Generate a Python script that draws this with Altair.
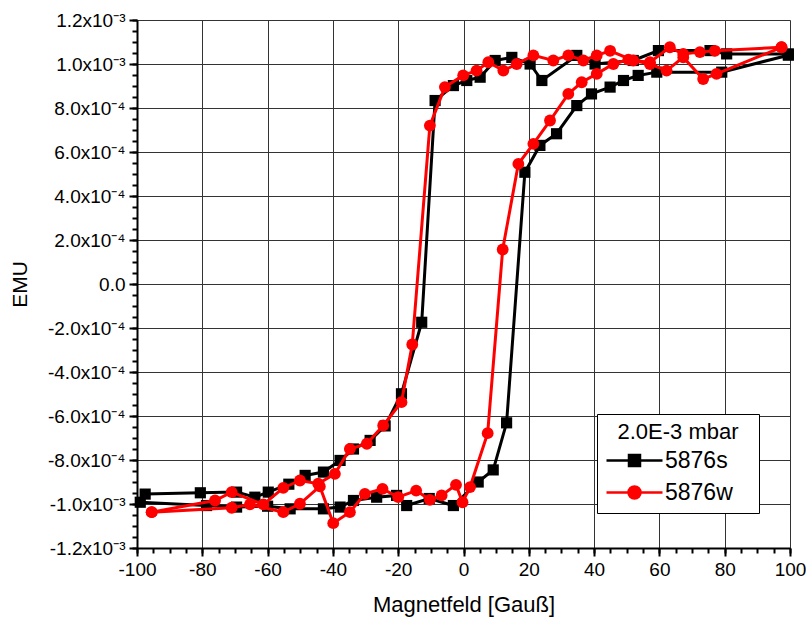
import altair as alt
import pandas as pd

FONT = "Liberation Sans"

# ---- data (x in Gauss, y in units of 1e-4 EMU) ----
# 5876s (black squares), descending branch (+100 -> -100)
s_down_x = [99.5, 80.6, 75.5, 59.7, 52.0, 40.3, 34.7, 24.0, 20.4, 14.8, 9.7, 5.1, 1.0, -3.1, -8.7,
            -12.8, -19.0, -24.0, -28.6, -33.7, -37.8, -42.9, -48.5, -53.5, -59.8, -63.9, -69.5, -80.6, -97.5]
s_down_y = [10.46, 10.46, 10.61, 10.61, 10.16, 10.0, 10.39, 9.25, 10.0, 10.3, 10.16, 9.4, 9.25, 9.02, 8.34,
            -1.74, -4.99, -6.45, -7.11, -7.5, -8.02, -8.55, -8.7, -9.1, -9.46, -9.69, -9.46, -9.49, -9.55]
# 5876s ascending branch (-100 -> +100)
s_up_x = [-99.0, -78.7, -69.5, -60.0, -53.1, -42.9, -37.8, -33.7, -26.6, -20.5, -17.4, -10.5, -3.1, 4.5,
          9.1, 13.2, 18.8, 23.4, 28.5, 34.7, 39.2, 44.9, 49.0, 53.5, 59.2, 79.1, 99.5]
s_up_y = [-9.92, -10.07, -10.14, -10.1, -10.22, -10.22, -10.14, -9.84, -9.69, -9.61, -10.07, -9.75, -10.07, -9.0,
          -8.45, -6.31, 5.08, 6.3, 6.83, 8.11, 8.64, 8.95, 9.25, 9.48, 9.63, 9.63, 10.4]
# 5876w (red circles), descending branch
w_down_x = [97.4, 77.0, 72.4, 67.3, 63.2, 57.1, 52.0, 44.9, 40.8, 36.7, 32.1, 27.5, 21.4, 16.3, 12.2, 7.6,
            4.0, -0.1, -5.7, -10.3, -15.7, -19.0, -24.6, -29.6, -34.8, -39.4, -44.5, -50.1, -55.2, -61.3,
            -71.0, -76.1, -95.5]
w_down_y = [10.76, 10.6, 10.54, 10.46, 10.76, 10.08, 10.16, 10.6, 10.39, 10.16, 10.39, 10.16, 10.39, 10.0, 9.7,
            10.08, 9.7, 9.48, 8.95, 7.2, -2.75, -5.37, -6.43, -7.26, -7.5, -8.63, -9.08, -8.93, -9.27, -10.02,
            -9.46, -9.84, -10.37]
# 5876w ascending branch
w_up_x = [-95.5, -71.0, -65.4, -55.2, -50.1, -44.0, -39.9, -34.8, -30.2, -24.8, -20.0, -14.5, -10.3, -6.7,
          -2.3, -0.3, 2.0, 7.4, 12.0, 16.8, 21.4, 26.5, 32.1, 36.2, 40.8, 45.9, 50.5, 57.1, 62.2, 67.3,
          73.4, 77.5, 97.4]
w_up_y = [-10.37, -10.17, -10.02, -10.37, -9.99, -9.2, -10.87, -10.37, -9.54, -9.31, -9.69, -9.39, -9.81, -9.61,
          -9.13, -9.92, -9.23, -6.78, 1.57, 5.46, 6.37, 7.43, 8.64, 9.17, 9.55, 10.0, 10.2, 10.0, 9.7, 10.3,
          9.32, 9.55, 10.76]

series_names = ["5876s", "5876w"]
series_colors = ["#000000", "#ff0000"]
legend_title = "2.0E-3 mbar"

x_ticks = [-100, -80, -60, -40, -20, 0, 20, 40, 60, 80, 100]
x_minor = list(range(-100, 101, 5))
y_ticks = [-1.2e-3, -1.0e-3, -8e-4, -6e-4, -4e-4, -2e-4, 0.0, 2e-4, 4e-4, 6e-4, 8e-4, 1.0e-3, 1.2e-3]
y_tick_labels = ["-1.2x10⁻³", "-1.0x10⁻³", "-8.0x10⁻⁴", "-6.0x10⁻⁴", "-4.0x10⁻⁴", "-2.0x10⁻⁴", "0.0",
                 "2.0x10⁻⁴", "4.0x10⁻⁴", "6.0x10⁻⁴", "8.0x10⁻⁴", "1.0x10⁻³", "1.2x10⁻³"]
y_minor = [round(k * 5e-5, 6) for k in range(-24, 25)]

rows = []
def add(name, branch, xs, ys):
    for i, (xv, yv) in enumerate(zip(xs, ys)):
        rows.append({"series": name, "seg": name + branch, "step": i, "x": xv, "y": yv * 1e-4})

add("5876s", "down", s_down_x, s_down_y)
add("5876s", "up", s_up_x, s_up_y)
add("5876w", "down", w_down_x, w_down_y)
add("5876w", "up", w_up_x, w_up_y)
df = pd.DataFrame(rows)

xscale = alt.Scale(domain=[-100, 100], nice=False, zero=False)
yscale = alt.Scale(domain=[-1.2e-3, 1.2e-3], nice=False, zero=False)

label_js = "[" + ",".join("'" + s + "'" for s in y_tick_labels) + "][round(datum.value*1e5/20)+6]"

x_main_axis = alt.Axis(orient="bottom", values=x_ticks, title="Magnetfeld [Gauß]", grid=True,
                       gridColor="#333333", gridWidth=1, domainColor="black", domainWidth=2,
                       tickColor="black", tickWidth=2, tickSize=8, labelPadding=4,
                       labelFlush=False, labelOverlap=False,
                       labelFont=FONT, labelFontSize=19, labelColor="black",
                       labelExpr="'' + datum.value",
                       titleFont=FONT, titleFontSize=22, titleFontWeight="normal", titleColor="black",
                       titlePadding=15)
y_main_axis = alt.Axis(orient="left", values=y_ticks, title="EMU", grid=True,
                       gridColor="#333333", gridWidth=1, domainColor="black", domainWidth=2,
                       tickColor="black", tickWidth=2, tickSize=8, labelPadding=4,
                       labelFlush=False, labelOverlap=False,
                       labelFont=FONT, labelFontSize=19, labelColor="black", labelExpr=label_js,
                       titleFont=FONT, titleFontSize=21, titleFontWeight="normal", titleColor="black",
                       titlePadding=17)
x_minor_axis = alt.Axis(orient="bottom", values=x_minor, labels=False, grid=False, domain=False,
                        tickColor="black", tickWidth=2, tickSize=5, title=None)
y_minor_axis = alt.Axis(orient="left", values=y_minor, labels=False, grid=False, domain=False,
                        tickColor="black", tickWidth=2, tickSize=5, title=None)

base = alt.Chart(df)

def line_layer(name, color, xa, ya):
    return base.transform_filter(alt.datum.series == name).mark_line(color=color, strokeWidth=3).encode(
        x=alt.X("x:Q", scale=xscale, axis=xa),
        y=alt.Y("y:Q", scale=yscale, axis=ya),
        detail="seg:N",
        order="step:Q",
    )

def point_layer(name, color, shape, size, xa, ya):
    return base.transform_filter(alt.datum.series == name).mark_point(
        filled=True, color=color, shape=shape, size=size, opacity=1).encode(
        x=alt.X("x:Q", scale=xscale, axis=xa),
        y=alt.Y("y:Q", scale=yscale, axis=ya),
    )

# legend symbols: a line with the marker in its middle (trailing move widens the box)
sq_path = "M-1,0H4.6M1.25,-0.55H2.35V0.55H1.25ZM12.9,0"
circ_path = "M-1,0H4.6M2.4,0A0.6,0.6,0,1,1,1.2,0A0.6,0.6,0,1,1,2.4,0ZM12.9,0"

leg = alt.Legend(title=legend_title, orient="none", legendX=460, legendY=394, direction="vertical",
                 padding=8, strokeColor="black", fillColor="white", cornerRadius=0,
                 titleFont=FONT, titleFontSize=22, titleFontWeight="normal", titleColor="black",
                 titleAnchor="middle", titlePadding=5, titleLimit=300,
                 labelFont=FONT, labelFontSize=23, labelColor="black", labelOffset=37, labelLimit=300,
                 rowPadding=8, symbolSize=400, symbolStrokeWidth=2.5)

legend_layer = base.transform_filter("false").mark_point(filled=True, opacity=1, strokeWidth=2.5).encode(
    x=alt.X("x:Q", scale=xscale, axis=None),
    y=alt.Y("y:Q", scale=yscale, axis=None),
    shape=alt.Shape("series:N", scale=alt.Scale(domain=series_names, range=[sq_path, circ_path]), legend=leg),
    fill=alt.Fill("series:N", scale=alt.Scale(domain=series_names, range=series_colors), legend=leg),
    stroke=alt.Stroke("series:N", scale=alt.Scale(domain=series_names, range=series_colors), legend=leg),
)

chart = alt.layer(
    line_layer("5876s", series_colors[0], x_main_axis, y_main_axis),
    point_layer("5876s", series_colors[0], "square", 125, x_minor_axis, y_minor_axis),
    line_layer("5876w", series_colors[1], None, None),
    point_layer("5876w", series_colors[1], "circle", 140, None, None),
    legend_layer,
).resolve_axis(x="independent", y="independent").properties(
    width=653, height=528,
    autosize=alt.AutoSizeParams(type="none"),
    padding={"left": 137, "top": 20, "right": 16, "bottom": 78},
).configure_view(stroke="#333333", strokeWidth=1).configure(font=FONT)

chart.save("out.html", embed_options={"renderer": "svg", "actions": False})
